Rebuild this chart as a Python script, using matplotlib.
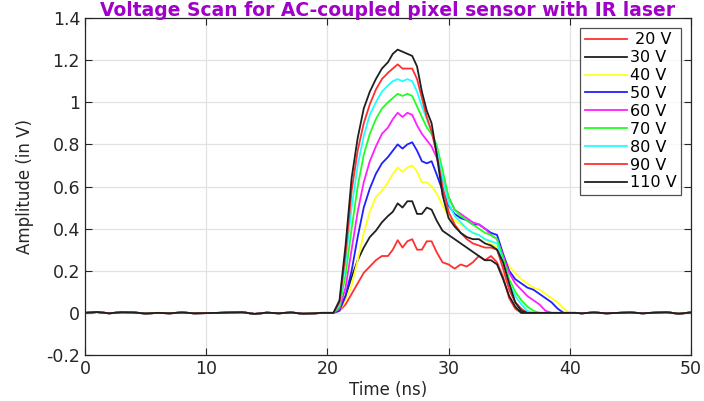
#!/usr/bin/env python3
"""
plot.py - Voltage scan of an AC-coupled pixel sensor (IR laser), amplitude vs time
"""

import matplotlib
matplotlib.use("Agg")
import matplotlib.pyplot as plt
from matplotlib.ticker import FuncFormatter

# Baseline (noise only) before and after the pulse, shared by all voltages
pre_t = [0, 1, 2, 3, 4, 5, 6, 7, 8, 9, 10, 11, 12, 13, 14, 15, 16, 17, 18, 19, 19.5]
pre_v = [0.0, 0.004, -0.002, 0.003, 0.002, -0.003, 0.0, -0.002, 0.002, -0.002,
         -0.001, 0.0, 0.002, 0.003, -0.005, 0.001, -0.002, 0.002, -0.004, -0.002, 0.0]
post_t = [40.5, 41, 42, 43, 44, 45, 46, 47, 48, 49, 50]
post_v = [0.0, -0.002, 0.002, -0.002, 0.0, 0.002, -0.002, 0.001, 0.003, -0.004, 0.002]

# Pulse region (ns)
pulse_t = [20.0, 20.5, 21.0, 21.5, 22.0, 22.5, 23.0, 23.5, 24.0, 24.5,
           25.0, 25.4, 25.8, 26.2, 26.6, 27.0, 27.4, 27.8, 28.2, 28.6,
           29.0, 29.5, 30.0, 30.5, 31.0, 31.5, 32.0, 32.5, 33.0, 33.5,
           34.0, 34.5, 35.0, 35.5, 36.0, 36.5, 37.0, 37.5, 38.0, 38.5,
           39.0, 39.5, 40.0]

v20 = [0.0, 0.0, 0.01, 0.04, 0.09, 0.14, 0.19, 0.22, 0.25, 0.27,
       0.27, 0.30, 0.345, 0.31, 0.34, 0.35, 0.30, 0.30, 0.34, 0.34,
       0.29, 0.24, 0.23, 0.21, 0.23, 0.22, 0.24, 0.27, 0.25, 0.27,
       0.24, 0.17, 0.07, 0.02, 0.0, 0.0, 0.0, 0.0, 0.0, 0.0,
       0.0, 0.0, 0.0]
v30 = [0.0, 0.0, 0.02, 0.08, 0.17, 0.25, 0.31, 0.36, 0.39, 0.43,
       0.46, 0.48, 0.52, 0.50, 0.53, 0.53, 0.47, 0.47, 0.50, 0.49,
       0.44, 0.39, 0.37, 0.35, 0.33, 0.31, 0.29, 0.27, 0.25, 0.25,
       0.23, 0.16, 0.08, 0.03, 0.0, 0.0, 0.0, 0.0, 0.0, 0.0,
       0.0, 0.0, 0.0]
v40 = [0.0, 0.0, 0.01, 0.06, 0.13, 0.25, 0.38, 0.48, 0.55, 0.58,
       0.62, 0.66, 0.69, 0.67, 0.69, 0.70, 0.67, 0.62, 0.62, 0.60,
       0.57, 0.51, 0.46, 0.44, 0.42, 0.40, 0.38, 0.37, 0.35, 0.33,
       0.31, 0.27, 0.22, 0.19, 0.16, 0.14, 0.12, 0.11, 0.09, 0.07,
       0.05, 0.02, 0.0]
v50 = [0.0, 0.0, 0.01, 0.08, 0.20, 0.36, 0.50, 0.59, 0.66, 0.71,
       0.74, 0.77, 0.80, 0.78, 0.80, 0.81, 0.77, 0.72, 0.71, 0.72,
       0.66, 0.58, 0.51, 0.47, 0.45, 0.44, 0.42, 0.42, 0.40, 0.38,
       0.37, 0.28, 0.20, 0.16, 0.14, 0.12, 0.11, 0.09, 0.07, 0.05,
       0.02, 0.0, 0.0]
v60 = [0.0, 0.0, 0.02, 0.12, 0.30, 0.48, 0.62, 0.72, 0.79, 0.85,
       0.88, 0.92, 0.95, 0.93, 0.95, 0.94, 0.89, 0.85, 0.82, 0.79,
       0.74, 0.64, 0.55, 0.49, 0.47, 0.45, 0.43, 0.42, 0.40, 0.37,
       0.35, 0.27, 0.19, 0.14, 0.11, 0.08, 0.06, 0.04, 0.01, 0.0,
       0.0, 0.0, 0.0]
v70 = [0.0, 0.0, 0.03, 0.18, 0.40, 0.60, 0.75, 0.85, 0.92, 0.97,
       1.00, 1.02, 1.04, 1.03, 1.04, 1.03, 0.98, 0.93, 0.88, 0.85,
       0.80, 0.68, 0.55, 0.49, 0.46, 0.44, 0.42, 0.40, 0.38, 0.37,
       0.35, 0.26, 0.16, 0.10, 0.06, 0.03, 0.01, 0.0, 0.0, 0.0,
       0.0, 0.0, 0.0]
v80 = [0.0, 0.0, 0.04, 0.24, 0.50, 0.70, 0.84, 0.94, 1.00, 1.05,
       1.08, 1.10, 1.11, 1.10, 1.11, 1.10, 1.05, 0.98, 0.92, 0.86,
       0.78, 0.64, 0.52, 0.46, 0.43, 0.40, 0.38, 0.37, 0.35, 0.34,
       0.33, 0.24, 0.14, 0.08, 0.04, 0.01, 0.0, 0.0, 0.0, 0.0,
       0.0, 0.0, 0.0]
v90 = [0.0, 0.0, 0.05, 0.28, 0.58, 0.77, 0.90, 0.99, 1.06, 1.11,
       1.14, 1.16, 1.18, 1.16, 1.16, 1.16, 1.11, 1.02, 0.93, 0.86,
       0.76, 0.60, 0.48, 0.42, 0.38, 0.35, 0.33, 0.32, 0.31, 0.31,
       0.30, 0.21, 0.11, 0.05, 0.02, 0.0, 0.0, 0.0, 0.0, 0.0,
       0.0, 0.0, 0.0]
v110 = [0.0, 0.0, 0.06, 0.32, 0.64, 0.83, 0.97, 1.05, 1.11, 1.16,
        1.19, 1.23, 1.25, 1.24, 1.23, 1.22, 1.17, 1.05, 0.96, 0.90,
        0.76, 0.56, 0.45, 0.41, 0.38, 0.36, 0.35, 0.35, 0.33, 0.32,
        0.30, 0.24, 0.14, 0.05, 0.01, 0.0, 0.0, 0.0, 0.0, 0.0,
        0.0, 0.0, 0.0]

labels = [' 20 V', '30 V', '40 V', '50 V', '60 V', '70 V', '80 V', '90 V', '110 V']
series = [v20, v30, v40, v50, v60, v70, v80, v90, v110]
colors = ['#ff3030', '#202020', '#ffff20', '#2020ff', '#ff20ff',
          '#20ff20', '#20ffff', '#ff3030', '#202020']

fig = plt.figure(figsize=(7.04, 4.01), dpi=100)
ax = fig.add_axes([0.1207, 0.1147, 0.8608, 0.8404])

t_all = pre_t + pulse_t + post_t
for vals, col, lab in zip(series, colors, labels):
    ax.plot(t_all, pre_v + vals + post_v, color=col, lw=1.3, label=lab)

ax.set_xlim(0, 50)
ax.set_ylim(-0.2, 1.4)
ax.set_xticks([0, 10, 20, 30, 40, 50])
ax.set_yticks([-0.2, 0, 0.2, 0.4, 0.6, 0.8, 1.0, 1.2, 1.4])
ax.yaxis.set_major_formatter(FuncFormatter(lambda v, p: '%g' % round(v, 2)))
ax.grid(True, color='#e2e2e2', lw=0.9)
ax.set_axisbelow(True)
ax.tick_params(direction='in', top=True, right=True, length=5,
               labelsize=12.5, colors='#262626')
for sp in ax.spines.values():
    sp.set_color('#262626')
    sp.set_linewidth(0.9)

ax.set_xlabel('Time (ns)', fontsize=12, color='#262626', labelpad=2)
ax.set_ylabel('Amplitude (in V)', fontsize=12, color='#262626', labelpad=9)

# title sits right at the top edge, as in the original figure
fig.text(0.55, 0.998, 'Voltage Scan for AC-coupled pixel sensor with IR laser',
         ha='center', va='top', fontsize=13.5, fontweight='bold', color='#a000c8')

leg = ax.legend(loc='upper right', fontsize=11.5, frameon=True, fancybox=False,
                edgecolor='#262626', labelspacing=0.18, handlelength=2.6,
                handletextpad=0.2, borderpad=0.3, borderaxespad=0.6)
leg.get_frame().set_linewidth(0.9)

fig.savefig('out.png', dpi=100)
